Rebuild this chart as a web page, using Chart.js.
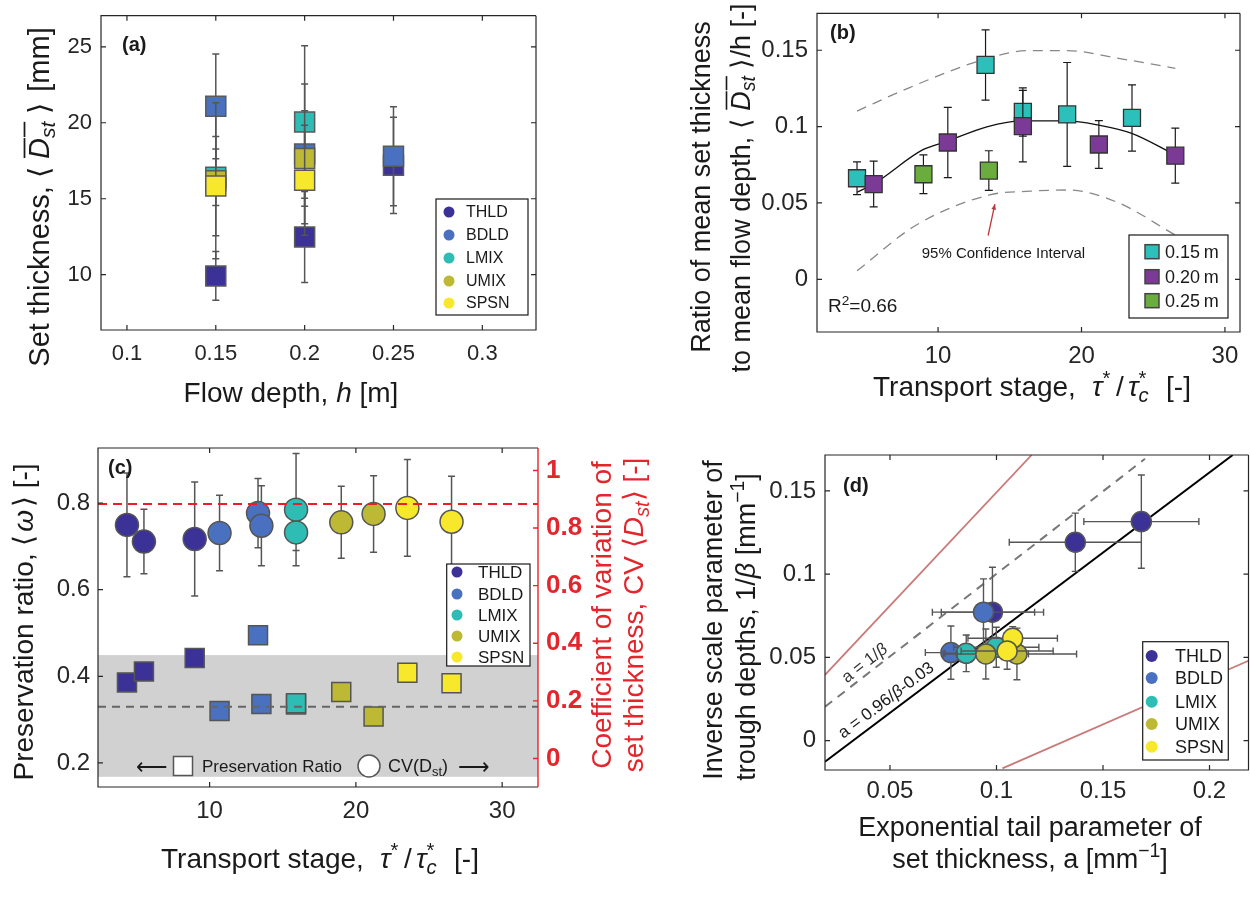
<!DOCTYPE html>
<html><head><meta charset="utf-8">
<script src="https://cdn.jsdelivr.net/npm/chart.js@4.4.1/dist/chart.umd.min.js"></script>
<style>
html,body{margin:0;padding:0;background:#fff;}
body{width:1250px;height:903px;overflow:hidden;position:relative;}
canvas{position:absolute;left:0;top:0;}
</style></head><body>
<canvas id="ca" width="1260" height="903"></canvas>
<canvas id="cb" width="1260" height="903"></canvas>
<canvas id="cc" width="1260" height="903"></canvas>
<canvas id="cd" width="1260" height="903"></canvas>
<script>
// ================= DATA =================
const SERIES = ['THLD','BDLD','LMIX','UMIX','SPSN'];
const SERIES_COLORS = ['#3b3197','#4a71bf','#2ebdb4','#bdb935','#f8e82c'];

// (a) set thickness vs flow depth
const aTickX = [0.1,0.15,0.2,0.25,0.3];
const aTickXLabels = ['0.1','0.15','0.2','0.25','0.3'];
const aTickY = [10,15,20,25];
const aTickYLabels = ['10','15','20','25'];
const aDepth    = [[0.15,0.20,0.25],[0.15,0.20,0.25],[0.15,0.20],[0.15,0.20],[0.15,0.20]];
const aThick    = [[9.92,12.48,17.20],[21.08,17.95,17.79],[16.42,20.05],[16.18,17.65],[15.83,16.22]];
const aThickErr = [[1.60,3.00,3.17],[3.45,4.60,3.26],[1.86,5.02],[5.13,3.14],[3.27,3.62]];

// (b) ratio vs transport stage
const bGroups = ['0.15\u2009m','0.20\u2009m','0.25\u2009m'];
const bColors = ['#2dbfba','#7a3a96','#6aad3e'];
const bTickX = [10,20,30];
const bTickXLabels = ['10','20','30'];
const bTickY = [0,0.05,0.1,0.15];
const bTickYLabels = ['0','0.05','0.1','0.15'];
const bStage    = [[4.35,13.31,15.91,19.00,23.52],[5.51,10.68,15.91,21.21,26.54],[8.98,13.54]];
const bRatio    = [[0.0662,0.1404,0.1096,0.1080,0.1057],[0.0624,0.0896,0.1003,0.0883,0.0810],[0.0688,0.0712]];
const bRatioErr = [[0.0107,0.0230,0.0158,0.0340,0.0217],[0.0150,0.0230,0.0234,0.0156,0.0180],[0.0127,0.0130]];
const bFitStage = [4.35,5.5,8.95,10.6,13.4,15.9,19.0,21.2,23.5,26.5];
const bFitRatio = [0.0570,0.0624,0.0849,0.0903,0.0999,0.1038,0.1038,0.1010,0.0956,0.0817];
const bUpStage  = [4.35,8.02,13.14,16.4,19.0,22.45,26.54];
const bUpRatio  = [0.1102,0.1256,0.1438,0.1498,0.1498,0.1449,0.1382];
const bLoStage  = [4.35,8.49,13.6,16.4,19.0,22.45,26.54];
const bLoRatio  = [0.0056,0.0356,0.0553,0.0577,0.0585,0.0506,0.0290];

// (c) preservation ratio (left) and CV (right)
const cTickX = [10,20,30];
const cTickXLabels = ['10','20','30'];
const cTickY = [0.2,0.4,0.6,0.8];
const cTickYLabels = ['0.2','0.4','0.6','0.8'];
const cTickY2 = [0,0.2,0.4,0.6,0.8,1];
const cTickY2Labels = ['0','0.2','0.4','0.6','0.8','1'];
const cStage   = [[4.35,5.51,8.98],[10.68,13.31,13.54],[15.91,15.91],[19.00,21.21],[23.52,26.54]];
const cCV      = [[0.811,0.753,0.762],[0.783,0.852,0.808],[0.864,0.785],[0.820,0.849],[0.870,0.822]];
const cCVErr   = [[0.180,0.112,0.198],[0.131,0.120,0.139],[0.195,0.063],[0.125,0.133],[0.168,0.158]];
const cPres    = [[0.386,0.411,0.442],[0.320,0.495,0.336],[0.335,0.338],[0.364,0.307],[0.408,0.384]];
const cPresErr = [[0.013,0.010,0.010],[0.013,0.014,0.012],[0.012,0.014],[0.012,0.012],[0.012,0.012]];
const cMeanCV = 0.884;
const cMeanPres = 0.330;
const cBandPres = [0.168,0.449];

// (d) 1/beta vs a
const dTickX = [0.05,0.1,0.15,0.2];
const dTickXLabels = ['0.05','0.1','0.15','0.2'];
const dTickY = [0,0.05,0.1,0.15];
const dTickYLabels = ['0','0.05','0.1','0.15'];
const dA       = [[0.137,0.168,0.0981],[0.0939,0.0786],[0.0858,0.0999],[0.0950,0.1096],[0.1076,0.1050]];
const dAErr    = [[0.031,0.027,0.024],[0.024,0.012],[0.010,0.020],[0.020,0.028],[0.021,0.0216]];
const dInvB    = [[0.1192,0.1316,0.0772],[0.0772,0.0529],[0.0525,0.0561],[0.0521,0.0521],[0.0615,0.0539]];
const dInvBErr = [[0.0175,0.028,0.027],[0.020,0.016],[0.011,0.012],[0.015,0.0155],[0.007,0.011]];
const dFitA = [0.0195,0.2109], dFitB = [-0.0126,0.1716];
const dOneA = [0.0195,0.1697], dOneB = [0.0204,0.1693];
const dRedUpA = [0.0195,0.1165], dRedUpB = [0.0395,0.1716];
const dRedLoA = [0.1028,0.2183], dRedLoB = [-0.0166,0.0480];

// ================= HELPERS =================
const W = 1260, H = 903, AXBOX = 70;
const FONT = "'Liberation Sans', Arial, Helvetica, sans-serif";
const INK = '#1a1a1a';
const pts = (xs, ys) => xs.map((x,i)=>({x, y: ys[i]}));
const sqR = side => side/Math.SQRT2;

function axis(pos, min, max, vals, labels, o={}) {
  const horiz = (pos==='bottom'||pos==='top');
  return {
    type:'linear', position:pos, min, max,
    grid:{display:false, drawTicks:false}, border:{display:false},
    ticks:{autoSkip:false, maxRotation:0, minRotation:0, padding:o.pad ?? 8,
      color:o.color||'#262626', font:{family:FONT, size:o.size||20, weight:o.weight||'normal'},
      callback:(v,i)=>labels[i]},
    afterBuildTicks(s){ s.ticks = vals.map(v=>({value:v})); },
    afterFit(s){
      if (horiz) s.height = AXBOX; else s.width = AXBOX;
      s.paddingTop = 0; s.paddingBottom = 0; s.paddingLeft = 0; s.paddingRight = 0;
    }
  };
}

function rich(ctx, segs, x, y, o) {
  const size = o.size || 20;
  ctx.save();
  ctx.translate(x, y);
  if (o.rot) ctx.rotate(o.rot);
  const col = o.color || INK;
  ctx.fillStyle = col; ctx.strokeStyle = col;
  ctx.textBaseline = 'alphabetic'; ctx.textAlign = 'left';
  const items = []; let cur = 0;
  for (const s of segs) {
    const small = s.sub || s.sup;
    const sz = small ? size*0.72 : size;
    const font = `${s.i?'italic ':''}${(s.b||o.bold)?'bold ':''}${sz}px ${FONT}`;
    ctx.font = font;
    const w = ctx.measureText(s.t).width;
    let sx = cur + (s.gap ? s.gap*size : 0);
    if (s.stack && items.length) sx = items[items.length-1].sx;
    items.push({t:s.t, font, sx, w, dy: s.sub ? size*0.2 : (s.sup ? -size*0.38 : 0), ov:s.ov});
    cur = Math.max(cur, sx + w + (s.after ? s.after*size : 0));
  }
  const x0 = o.align==='left' ? 0 : (o.align==='right' ? -cur : -cur/2);
  const base = size*0.36;
  for (const it of items) {
    ctx.font = it.font;
    ctx.fillText(it.t, x0+it.sx, base+it.dy);
    if (it.ov) {
      ctx.lineWidth = Math.max(1, size*0.06);
      const oy = base - size*0.86;
      ctx.beginPath(); ctx.moveTo(x0+it.sx+1, oy); ctx.lineTo(x0+it.sx+it.w, oy); ctx.stroke();
    }
  }
  ctx.restore();
  return cur;
}

function drawErr(chart, meta, e) {
  const ds = chart.data.datasets[meta.index];
  const xs = chart.scales[meta.xAxisID], ys = chart.scales[meta.yAxisID];
  const ctx = chart.ctx, a = chart.chartArea;
  ctx.save();
  ctx.beginPath(); ctx.rect(a.left, a.top, a.right-a.left, a.bottom-a.top); ctx.clip();
  ctx.strokeStyle = e.color; ctx.lineWidth = e.lw;
  ctx.beginPath();
  ds.data.forEach((p,j)=>{
    const px = xs.getPixelForValue(p.x), py = ys.getPixelForValue(p.y);
    if (e.ey) {
      const y1 = ys.getPixelForValue(p.y+e.ey[j]), y2 = ys.getPixelForValue(p.y-e.ey[j]);
      ctx.moveTo(px,y1); ctx.lineTo(px,y2);
      ctx.moveTo(px-e.cap,y1); ctx.lineTo(px+e.cap,y1);
      ctx.moveTo(px-e.cap,y2); ctx.lineTo(px+e.cap,y2);
    }
    if (e.ex) {
      const x1 = xs.getPixelForValue(p.x-e.ex[j]), x2 = xs.getPixelForValue(p.x+e.ex[j]);
      ctx.moveTo(x1,py); ctx.lineTo(x2,py);
      ctx.moveTo(x1,py-e.cap); ctx.lineTo(x1,py+e.cap);
      ctx.moveTo(x2,py-e.cap); ctx.lineTo(x2,py+e.cap);
    }
  });
  ctx.stroke();
  ctx.restore();
}

function frame(chart, o={}) {
  const ctx = chart.ctx, a = chart.chartArea;
  const L=a.left, R=a.right, T=a.top, B=a.bottom, tl=5;
  ctx.save();
  ctx.lineWidth = 1.2; ctx.strokeStyle = '#262626';
  ctx.beginPath();
  const xs = chart.scales.x, ys = chart.scales.y;
  xs.ticks.forEach(t=>{ const p = xs.getPixelForValue(t.value);
    ctx.moveTo(p,B); ctx.lineTo(p,B-tl); ctx.moveTo(p,T); ctx.lineTo(p,T+tl); });
  ys.ticks.forEach(t=>{ const p = ys.getPixelForValue(t.value);
    ctx.moveTo(L,p); ctx.lineTo(L+tl,p);
    if (!o.right) { ctx.moveTo(R,p); ctx.lineTo(R-tl,p); } });
  ctx.moveTo(R,T); ctx.lineTo(L,T); ctx.lineTo(L,B); ctx.lineTo(R,B);
  if (!o.right) { ctx.lineTo(R,T); }
  ctx.stroke();
  if (o.right) {
    const s2 = chart.scales[o.right];
    ctx.strokeStyle = o.rightColor; ctx.lineWidth = 1.4;
    ctx.beginPath();
    s2.ticks.forEach(t=>{ const p = s2.getPixelForValue(t.value); ctx.moveTo(R,p); ctx.lineTo(R-tl,p); });
    ctx.moveTo(R,T); ctx.lineTo(R,B);
    ctx.stroke();
  }
  ctx.restore();
}

function legendBox(ctx, L) {
  const [x0,y0,x1,y1] = L.box;
  ctx.save();
  ctx.fillStyle = '#fff'; ctx.fillRect(x0,y0,x1-x0,y1-y0);
  ctx.strokeStyle = '#1a1a1a'; ctx.lineWidth = 1.2; ctx.strokeRect(x0,y0,x1-x0,y1-y0);
  L.labels.forEach((lab,i)=>{
    const y = L.ys[i];
    ctx.fillStyle = L.colors[i];
    if (L.shape==='rect') {
      const s = L.msize;
      ctx.fillRect(L.mx-s/2, y-s/2, s, s);
      ctx.strokeStyle = '#444'; ctx.lineWidth = 1.5; ctx.strokeRect(L.mx-s/2, y-s/2, s, s);
    } else {
      ctx.beginPath(); ctx.arc(L.mx, y, L.msize, 0, Math.PI*2); ctx.fill();
    }
    ctx.fillStyle = INK; ctx.font = `${L.size}px ${FONT}`;
    ctx.textBaseline = 'middle'; ctx.textAlign = 'left';
    ctx.fillText(lab, L.lx, y+1);
  });
  ctx.restore();
}

function makeChart(id, area, scales, datasets, hooks) {
  const plugin = {
    id: 'deco_'+id,
    beforeDatasetsDraw(chart){ if (hooks.under) hooks.under(chart, chart.ctx); },
    beforeDatasetDraw(chart, args){ const e = hooks.err && hooks.err[args.index]; if (e) drawErr(chart, args.meta, e); },
    afterDatasetsDraw(chart){ if (hooks.over) hooks.over(chart, chart.ctx); }
  };
  const hasRight = Object.values(scales).some(s=>s.position==='right');
  let pad = {left:area.l-AXBOX, top:area.t, right:W-area.r-(hasRight?AXBOX:0), bottom:H-area.b-AXBOX};
  const chart = new Chart(document.getElementById(id), {
    type:'scatter',
    data:{datasets},
    options:{
      responsive:false, animation:false, devicePixelRatio:1, events:[],
      layout:{padding:Object.assign({}, pad)},
      plugins:{legend:{display:false}, tooltip:{enabled:false}},
      scales
    },
    plugins:[plugin]
  });
  // make the plot box land exactly where the reference has it
  for (let k=0; k<4; k++) {
    const ca = chart.chartArea;
    const dl = area.l-ca.left, dt = area.t-ca.top, dr = area.r-ca.right, db = area.b-ca.bottom;
    if (Math.max(Math.abs(dl),Math.abs(dt),Math.abs(dr),Math.abs(db)) < 0.3) break;
    pad = {left:pad.left+dl, top:pad.top+dt, right:pad.right-dr, bottom:pad.bottom-db};
    chart.options.layout.padding = Object.assign({}, pad);
    chart.update('none');
  }
  return chart;
}

const DST = [{t:'\u27E8',after:0.28},{t:'D',i:1,ov:1},{t:'st',i:1,sub:1,ov:1},{t:'\u27E9',gap:0.28}];
const TAU = [{t:'Transport stage, '},{t:'\u03C4',i:1,gap:0.3},{t:'*',sup:1,after:0.05},{t:'/',gap:0.15},{t:'\u03C4',i:1,gap:0.15},{t:'c',i:1,sub:1},{t:'*',sup:1,stack:1},{t:' [-]',gap:0.35}];
const UP = -Math.PI/2;
const TS = 28;

// ================= PANEL A =================
(function(){
  const ds = [], err = [];
  SERIES.forEach((name,i)=>{
    ds.push({label:name, data:pts(aDepth[i], aThick[i]), pointStyle:'rect', pointRadius:sqR(20),
      backgroundColor:SERIES_COLORS[i], borderColor:'#5a5a5a', borderWidth:1.5, order:5-i});
    err.push({ey:aThickErr[i], color:'#555', lw:1.5, cap:3.5});
  });
  makeChart('ca', {l:101,t:12,r:536,b:330}, {
    x: axis('bottom', 0.0854, 0.3302, aTickX, aTickXLabels, {size:22, pad:11}),
    y: axis('left', 6.36, 27.05, aTickY, aTickYLabels, {size:22, pad:9})
  }, ds, {
    err,
    over(chart, ctx){
      frame(chart);
      legendBox(ctx, {box:[436,199,528,315], labels:SERIES, colors:SERIES_COLORS, ys:[212,235,258,281,303], mx:449, lx:466, size:16, shape:'circle', msize:5.5});
      rich(ctx, [{t:'(a)',b:1}], 122, 44, {size:20, align:'left'});
      rich(ctx, [{t:'Set thickness, '}, ...DST, {t:' [mm]',gap:0.1}], 39, 197, {size:TS+1, rot:UP});
      rich(ctx, [{t:'Flow depth, '},{t:'h',i:1},{t:' [m]'}], 291, 392, {size:TS});
    }
  });
})();

// ================= PANEL B =================
(function(){
  const ds = [], err = [];
  ds.push({label:'fit', data:pts(bFitStage,bFitRatio), showLine:true, pointRadius:0, borderColor:'#111', borderWidth:1.3, cubicInterpolationMode:'monotone', order:20});
  err.push(null);
  ds.push({label:'ci up', data:pts(bUpStage,bUpRatio), showLine:true, pointRadius:0, borderColor:'#888', borderWidth:1.3, borderDash:[10,7], cubicInterpolationMode:'monotone', order:21});
  err.push(null);
  ds.push({label:'ci lo', data:pts(bLoStage,bLoRatio), showLine:true, pointRadius:0, borderColor:'#888', borderWidth:1.3, borderDash:[10,7], cubicInterpolationMode:'monotone', order:22});
  err.push(null);
  bGroups.forEach((g,i)=>{
    ds.push({label:g, data:pts(bStage[i], bRatio[i]), pointStyle:'rect', pointRadius:sqR(17),
      backgroundColor:bColors[i], borderColor:'#333', borderWidth:1.3, order:3-i});
    err.push({ey:bRatioErr[i], color:'#1a1a1a', lw:1.2, cap:4});
  });
  makeChart('cb', {l:817,t:8,r:1240,b:332}, {
    x: axis('bottom', 1.56, 31.05, bTickX, bTickXLabels, {size:24, pad:10}),
    y: axis('left', -0.0345, 0.1742, bTickY, bTickYLabels, {size:24, pad:9})
  }, ds, {
    err,
    over(chart, ctx){
      frame(chart);
      const xs = chart.scales.x, ys = chart.scales.y;
      const tx = xs.getPixelForValue(13.49), ty = ys.getPixelForValue(0.0287);
      const hx = xs.getPixelForValue(13.96), hy = ys.getPixelForValue(0.0493);
      ctx.save(); ctx.strokeStyle = '#c0393b'; ctx.fillStyle = '#c0393b'; ctx.lineWidth = 1.3;
      ctx.beginPath(); ctx.moveTo(tx,ty); ctx.lineTo(hx,hy); ctx.stroke();
      const ang = Math.atan2(hy-ty, hx-tx);
      ctx.beginPath(); ctx.moveTo(hx,hy);
      ctx.lineTo(hx-6*Math.cos(ang-0.4), hy-6*Math.sin(ang-0.4));
      ctx.lineTo(hx-6*Math.cos(ang+0.4), hy-6*Math.sin(ang+0.4)); ctx.closePath(); ctx.fill();
      ctx.restore();
      rich(ctx, [{t:'95% Confidence Interval'}], xs.getPixelForValue(14.56), ys.getPixelForValue(0.0174), {size:15});
      rich(ctx, [{t:'R'},{t:'2',sup:1},{t:'=0.66'}], 828, 305, {size:19, align:'left'});
      legendBox(ctx, {box:[1129,235,1228,318], labels:bGroups, colors:bColors, ys:[251.7,276.7,300.7], mx:1152, lx:1165, size:18, shape:'rect', msize:14});
      rich(ctx, [{t:'(b)',b:1}], 830, 32, {size:20, align:'left'});
      rich(ctx, [{t:'Ratio of mean set thickness'}], 700, 187, {size:TS-1, rot:UP});
      rich(ctx, [{t:'to mean flow depth, '}, ...DST, {t:'/h [-]'}], 740, 188, {size:TS-1, rot:UP});
      rich(ctx, TAU, 1032, 386, {size:TS});
    }
  });
})();

// ================= PANEL C =================
(function(){
  const RED = '#e3262b';
  const ds = [], err = [];
  SERIES.forEach((name,i)=>{
    ds.push({label:name+' CV', data:pts(cStage[i], cCV[i]), yAxisID:'y2', pointStyle:'circle', pointRadius:11.5,
      backgroundColor:SERIES_COLORS[i], borderColor:'#555', borderWidth:1.5, order:10-i});
    err.push({ey:cCVErr[i], color:'#555', lw:1.5, cap:3.5});
  });
  SERIES.forEach((name,i)=>{
    ds.push({label:name+' PR', data:pts(cStage[i], cPres[i]), yAxisID:'y', pointStyle:'rect', pointRadius:sqR(19),
      backgroundColor:SERIES_COLORS[i], borderColor:'#555', borderWidth:1.5, order:5-i});
    err.push({ey:cPresErr[i], color:'#444', lw:1.3, cap:3.5});
  });
  ds.push({label:'mean CV', data:[{x:2.37,y:cMeanCV},{x:32.45,y:cMeanCV}], yAxisID:'y2', showLine:true, pointRadius:0, borderColor:'#ee1c25', borderWidth:2, borderDash:[9,6], order:-2});
  err.push(null);
  ds.push({label:'mean PR', data:[{x:2.37,y:cMeanPres},{x:32.45,y:cMeanPres}], yAxisID:'y', showLine:true, pointRadius:0, borderColor:'#666', borderWidth:2, borderDash:[8,6], order:-1});
  err.push(null);
  makeChart('cc', {l:98,t:448,r:538,b:787}, {
    x: axis('bottom', 2.37, 32.45, cTickX, cTickXLabels, {size:24, pad:10}),
    y: axis('left', 0.1445, 0.927, cTickY, cTickYLabels, {size:24, pad:8}),
    y2: axis('right', -0.099, 1.078, cTickY2, cTickY2Labels, {size:26, pad:8, color:RED, weight:'bold'})
  }, ds, {
    err,
    under(chart, ctx){
      const a = chart.chartArea, ys = chart.scales.y;
      const y1 = ys.getPixelForValue(cBandPres[1]), y2 = ys.getPixelForValue(cBandPres[0]);
      ctx.save(); ctx.fillStyle = '#d1d1d1'; ctx.fillRect(a.left, y1, a.right-a.left, y2-y1); ctx.restore();
      ctx.save();
      rich(ctx, [{t:'\u27F5'}], 152, 766, {size:22});
      ctx.fillStyle = '#fff'; ctx.strokeStyle = '#555'; ctx.lineWidth = 1.5;
      ctx.fillRect(173.5, 756.5, 19, 19); ctx.strokeRect(173.5, 756.5, 19, 19);
      ctx.beginPath(); ctx.arc(369, 766, 11, 0, Math.PI*2); ctx.fill(); ctx.stroke();
      ctx.restore();
      rich(ctx, [{t:'Preservation Ratio'}], 202, 766, {size:17, align:'left'});
      rich(ctx, [{t:'CV(D'},{t:'st',sub:1},{t:')'}], 388, 766, {size:18, align:'left'});
      rich(ctx, [{t:'\u27F6'}], 474, 766, {size:22});
    },
    over(chart, ctx){
      frame(chart, {right:'y2', rightColor:RED});
      legendBox(ctx, {box:[446.7,564,530,666], labels:SERIES, colors:SERIES_COLORS, ys:[572,594,615,636,657], mx:457, lx:478, size:17, shape:'circle', msize:5.5});
      rich(ctx, [{t:'(c)',b:1}], 108, 467, {size:20, align:'left'});
      rich(ctx, [{t:'Preservation ratio, \u27E8'},{t:'\u03C9',i:1,gap:0.1},{t:'\u27E9 [-]',gap:0.1}], 23, 622, {size:TS, rot:UP});
      rich(ctx, [{t:'Coefficient of variation of'}], 601, 615, {size:TS, rot:UP, color:RED});
      rich(ctx, [{t:'set thickness, CV \u27E8'},{t:'D',i:1},{t:'st',i:1,sub:1},{t:'\u27E9 [-]'}], 633, 615, {size:TS, rot:UP, color:RED});
      rich(ctx, TAU, 320, 858, {size:TS});
    }
  });
})();

// ================= PANEL D =================
(function(){
  const ds = [], err = [];
  ds.push({label:'upper', data:pts(dRedUpA,dRedUpB), showLine:true, pointRadius:0, borderColor:'#c97a78', borderWidth:1.8, order:30}); err.push(null);
  ds.push({label:'lower', data:pts(dRedLoA,dRedLoB), showLine:true, pointRadius:0, borderColor:'#c97a78', borderWidth:1.8, order:31}); err.push(null);
  ds.push({label:'a=1/b', data:pts(dOneA,dOneB), showLine:true, pointRadius:0, borderColor:'#777', borderWidth:2, borderDash:[9,7], order:32}); err.push(null);
  ds.push({label:'fit', data:pts(dFitA,dFitB), showLine:true, pointRadius:0, borderColor:'#000', borderWidth:2, order:33}); err.push(null);
  SERIES.forEach((name,i)=>{
    ds.push({label:name, data:pts(dA[i], dInvB[i]), pointStyle:'circle', pointRadius:10,
      backgroundColor:SERIES_COLORS[i], borderColor:'#555', borderWidth:1.5, order:5-i});
    err.push({ex:dAErr[i], ey:dInvBErr[i], color:'#555', lw:1.4, cap:3.5});
  });
  makeChart('cd', {l:825,t:455,r:1251,b:770}, {
    x: axis('bottom', 0.0195, 0.2183, dTickX, dTickXLabels, {size:24, pad:7}),
    y: axis('left', -0.0176, 0.1716, dTickY, dTickYLabels, {size:24, pad:9})
  }, ds, {
    err,
    over(chart, ctx){
      frame(chart);
      const xs = chart.scales.x, ys = chart.scales.y;
      const angOf = (ax, by) => Math.atan2(ys.getPixelForValue(by[1])-ys.getPixelForValue(by[0]), xs.getPixelForValue(ax[1])-xs.getPixelForValue(ax[0]));
      rich(ctx, [{t:'a = 1/'},{t:'\u03B2',i:1}], xs.getPixelForValue(0.0378), ys.getPixelForValue(0.047), {size:17, rot:angOf(dOneA,dOneB), color:'#333'});
      rich(ctx, [{t:'a = 0.96/'},{t:'\u03B2',i:1},{t:'-0.03'}], xs.getPixelForValue(0.0479), ys.getPixelForValue(0.0248), {size:17, rot:angOf(dFitA,dFitB)});
      legendBox(ctx, {box:[1142.7,641.7,1228.3,760], labels:SERIES, colors:SERIES_COLORS, ys:[656,678,701.7,724,746.7], mx:1151.7, lx:1175, size:18, shape:'circle', msize:6});
      rich(ctx, [{t:'(d)',b:1}], 843, 485, {size:20, align:'left'});
      rich(ctx, [{t:'Inverse scale parameter of'}], 712, 620, {size:TS-1, rot:UP});
      rich(ctx, [{t:'trough depths, 1/'},{t:'\u03B2',i:1},{t:' [mm'},{t:'\u22121',sup:1},{t:']'}], 745, 627, {size:TS-1, rot:UP});
      rich(ctx, [{t:'Exponential tail parameter of'}], 1030, 826, {size:TS-1});
      rich(ctx, [{t:'set thickness, a [mm'},{t:'\u22121',sup:1},{t:']'}], 1030, 858, {size:TS-1});
    }
  });
})();
</script>
</body></html>
